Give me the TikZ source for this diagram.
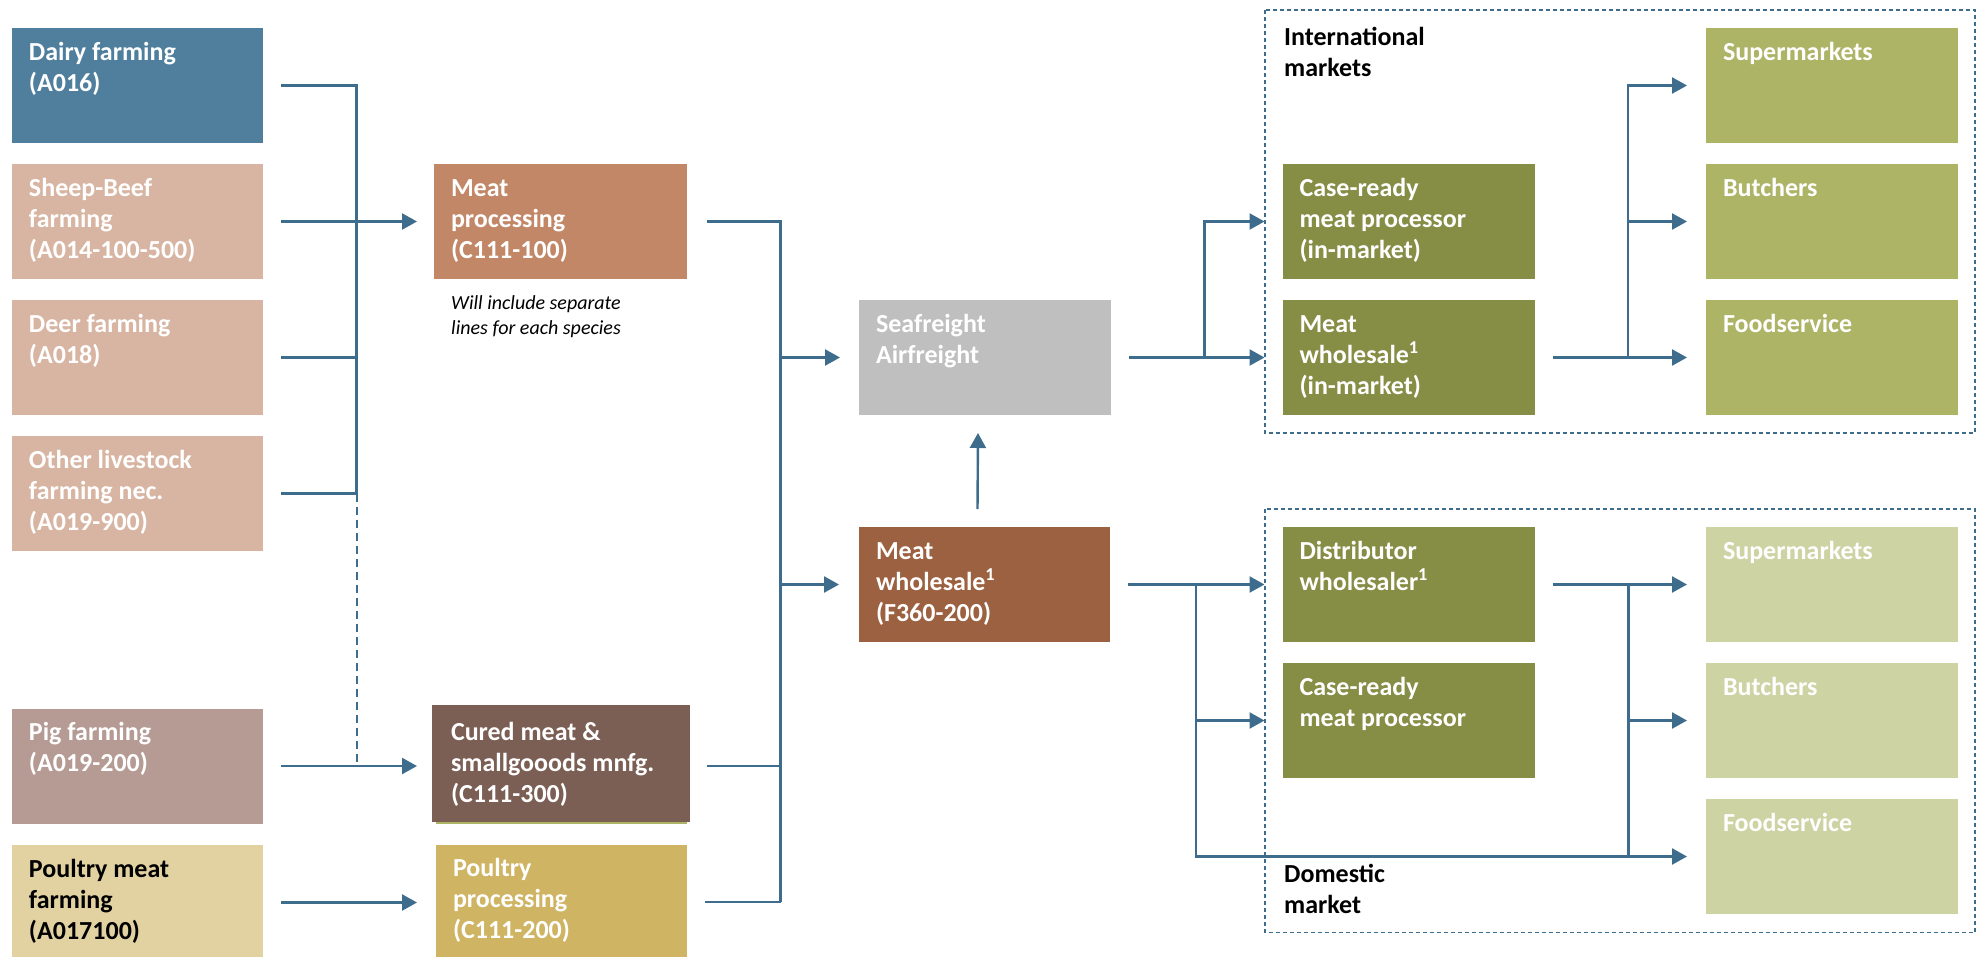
\documentclass[tikz,border=0pt]{standalone}
\usepackage{fontspec}
\setmainfont{Carlito}
\usetikzlibrary{arrows.meta}
\definecolor{dairyc}{RGB}{80,127,158}
\definecolor{tanc}{RGB}{216,181,162}
\definecolor{pigc}{RGB}{181,155,148}
\definecolor{pfarmc}{RGB}{226,209,161}
\definecolor{meatprocc}{RGB}{194,135,103}
\definecolor{curedc}{RGB}{123,94,84}
\definecolor{pprocc}{RGB}{207,180,100}
\definecolor{greyc}{RGB}{191,191,191}
\definecolor{mwc}{RGB}{156,97,64}
\definecolor{olived}{RGB}{134,141,69}
\definecolor{olivem}{RGB}{173,180,101}
\definecolor{olivel}{RGB}{205,211,163}
\definecolor{lineblue}{RGB}{62,108,140}
\newcommand\boxfont{\fontsize{26}{31}\selectfont\bfseries}
\newcommand\bt[4][32pt]{\parbox[c][#3][t]{#2}{\raggedright\leftskip=17pt\rule{0pt}{#1}#4}}
\tikzset{
  box/.style={anchor=north west, inner sep=0pt, outer sep=0pt, text=white, font=\boxfont},
  conn/.style={draw=lineblue, line width=2.4pt},
  arr/.style={conn, -{Triangle[length=15pt,width=16pt]}},
  dashline/.style={draw=lineblue, line width=2pt, dash pattern=on 8pt off 5pt},
  group/.style={draw=lineblue, line width=1.2pt, dash pattern=on 4pt off 3pt},
  lbl/.style={anchor=north west, inner sep=0pt, text=black, font=\boxfont},
}
\begin{document}
\begin{tikzpicture}[x=1pt,y=-1pt]
\useasboundingbox (0,0) rectangle (1981,956);
% group frames
\draw[group] (1265,10) rectangle (1975,433);
\draw[group] (1265,509) rectangle (1975,932.5);
% farming
\node[box, fill=dairyc] (dairy) at (12,28) {\bt{251pt}{115pt}{Dairy farming\\(A016)}};
\node[box, fill=tanc] (sheep) at (12,164) {\bt{251pt}{115pt}{Sheep-Beef\\farming\\(A014-100-500)}};
\node[box, fill=tanc] (deer) at (12,300) {\bt{251pt}{115pt}{Deer farming\\(A018)}};
\node[box, fill=tanc] (other) at (12,436) {\bt{251pt}{115pt}{Other livestock\\farming nec.\\(A019-900)}};
\node[box, fill=pigc] (pig) at (12,708.5) {\bt{251pt}{115pt}{Pig farming\\(A019-200)}};
\node[box, fill=pfarmc, text=black] (pfarm) at (12,845) {\bt{251pt}{115pt}{Poultry meat\\farming\\(A017100)}};
% processing
\node[box, fill=meatprocc] (meatproc) at (434,164) {\bt{253pt}{115pt}{Meat\\processing\\(C111-100)}};
\node[anchor=north west, inner sep=0pt, font=\fontsize{20}{25}\selectfont\itshape] (note) at (451,289)
  {\parbox[t]{240pt}{\raggedright\rule{0pt}{20pt}Will include separate\\lines for each species}};
\draw[olivem, line width=2pt] (436,822.7) -- (687,822.7);
\node[box, fill=curedc] (cured) at (432,705) {\bt[35pt]{258pt}{117pt}{\hspace*{2pt}Cured meat \&\\\hspace*{2pt}smallgooods mnfg.\\\hspace*{2pt}(C111-300)}};
\node[box, fill=pprocc] (pproc) at (436,844.5) {\bt{251pt}{115pt}{Poultry\\processing\\(C111-200)}};
% freight / wholesale
\node[box, fill=greyc] (sea) at (859,300) {\bt{252pt}{115pt}{Seafreight\\Airfreight}};
\node[box, fill=mwc] (mw) at (859,527) {\bt{251pt}{115pt}{Meat\\wholesale\textsuperscript{1}\\(F360-200)}};
% international
\node[lbl] (intl) at (1267,13) {\bt{200pt}{70pt}{International\\markets}};
\node[box, fill=olived] (crint) at (1282.5,164) {\bt{252pt}{115pt}{Case-ready\\meat processor\\(in-market)}};
\node[box, fill=olived] (mwint) at (1282.5,300) {\bt{252pt}{115pt}{Meat\\wholesale\textsuperscript{1}\\(in-market)}};
\node[box, fill=olivem] (supint) at (1706,28) {\bt{252pt}{115pt}{Supermarkets}};
\node[box, fill=olivem] (butint) at (1706,164) {\bt{252pt}{115pt}{Butchers}};
\node[box, fill=olivem] (foodint) at (1706,300) {\bt{252pt}{115pt}{Foodservice}};
% domestic
\node[box, fill=olived] (dist) at (1282.5,527) {\bt{252pt}{115pt}{Distributor\\wholesaler\textsuperscript{1}}};
\node[box, fill=olived] (crdom) at (1282.5,663) {\bt{252pt}{115pt}{Case-ready\\meat processor}};
\node[box, fill=olivel] (supdom) at (1706,527) {\bt{252pt}{115pt}{Supermarkets}};
\node[box, fill=olivel] (butdom) at (1706,663) {\bt{252pt}{115pt}{Butchers}};
\node[box, fill=olivel] (fooddom) at (1706,799) {\bt{252pt}{115pt}{Foodservice}};
\node[lbl] (dom) at (1267,850.5) {\bt{200pt}{70pt}{Domestic\\market}};
% bus coordinates
\coordinate (b1) at (356.5,0);
\coordinate (b2) at (780.5,0);
\coordinate (b3) at (1204.5,0);
\coordinate (b4) at (1628,0);
\coordinate (b5) at (1196,0);
\coordinate (b6) at (1628.5,0);
% farming -> processing
\draw[conn] ([xshift=18pt]dairy.east) -| (other.east -| b1);
\draw[conn] ([xshift=18pt]deer.east) -- (deer.east -| b1);
\draw[conn] ([xshift=18pt]other.east) -- (other.east -| b1);
\draw[arr] ([xshift=18pt]sheep.east) -- ([xshift=-17pt]meatproc.west);
\draw[dashline] (other.east -| b1) -- (pig.east -| b1);
\draw[arr] ([xshift=18pt]pig.east) -- ([xshift=-15pt]cured.west |- pig.east);
\draw[arr] ([xshift=18pt]pfarm.east) -- ([xshift=-19pt]pproc.west |- pfarm.east);
% processing -> freight / wholesale
\draw[conn] ([xshift=20pt]meatproc.east) -| (pproc.east -| b2);
\draw[conn] ([xshift=17pt]cured.east |- pig.east) -- (pig.east -| b2);
\draw[conn] ([xshift=18pt]pproc.east) -- (pproc.east -| b2);
\draw[arr] (sea.west -| b2) -- ([xshift=-19pt]sea.west);
\draw[arr] (mw.west -| b2) -- ([xshift=-20pt]mw.west);
\draw[arr] ([xshift=-7pt,yshift=18pt]mw.north) -- ([xshift=-7pt,yshift=-18pt]sea.south);
% international
\draw[arr] ([xshift=18pt]sea.east) -- ([xshift=-18pt]mwint.west);
\draw[arr] (sea.east -| b3) |- ([xshift=-18pt]crint.west);
\draw[conn] ([xshift=18pt]mwint.east) -- (mwint.east -| b4);
\draw[arr] (mwint.east -| b4) |- ([xshift=-19pt]supint.west);
\draw[arr] (butint.west -| b4) -- ([xshift=-19pt]butint.west);
\draw[arr] (foodint.west -| b4) -- ([xshift=-19pt]foodint.west);
% domestic
\draw[arr] ([xshift=18pt]mw.east) -- ([xshift=-18pt]dist.west);
\draw[arr] (mw.east -| b5) |- ([xshift=-19pt]fooddom.west);
\draw[arr] (crdom.west -| b5) -- ([xshift=-18pt]crdom.west);
\draw[arr] ([xshift=18pt]dist.east) -- ([xshift=-19pt]supdom.west);
\draw[conn] (dist.east -| b6) -- (fooddom.west -| b6);
\draw[arr] (butdom.west -| b6) -- ([xshift=-19pt]butdom.west);
\end{tikzpicture}
\end{document}
